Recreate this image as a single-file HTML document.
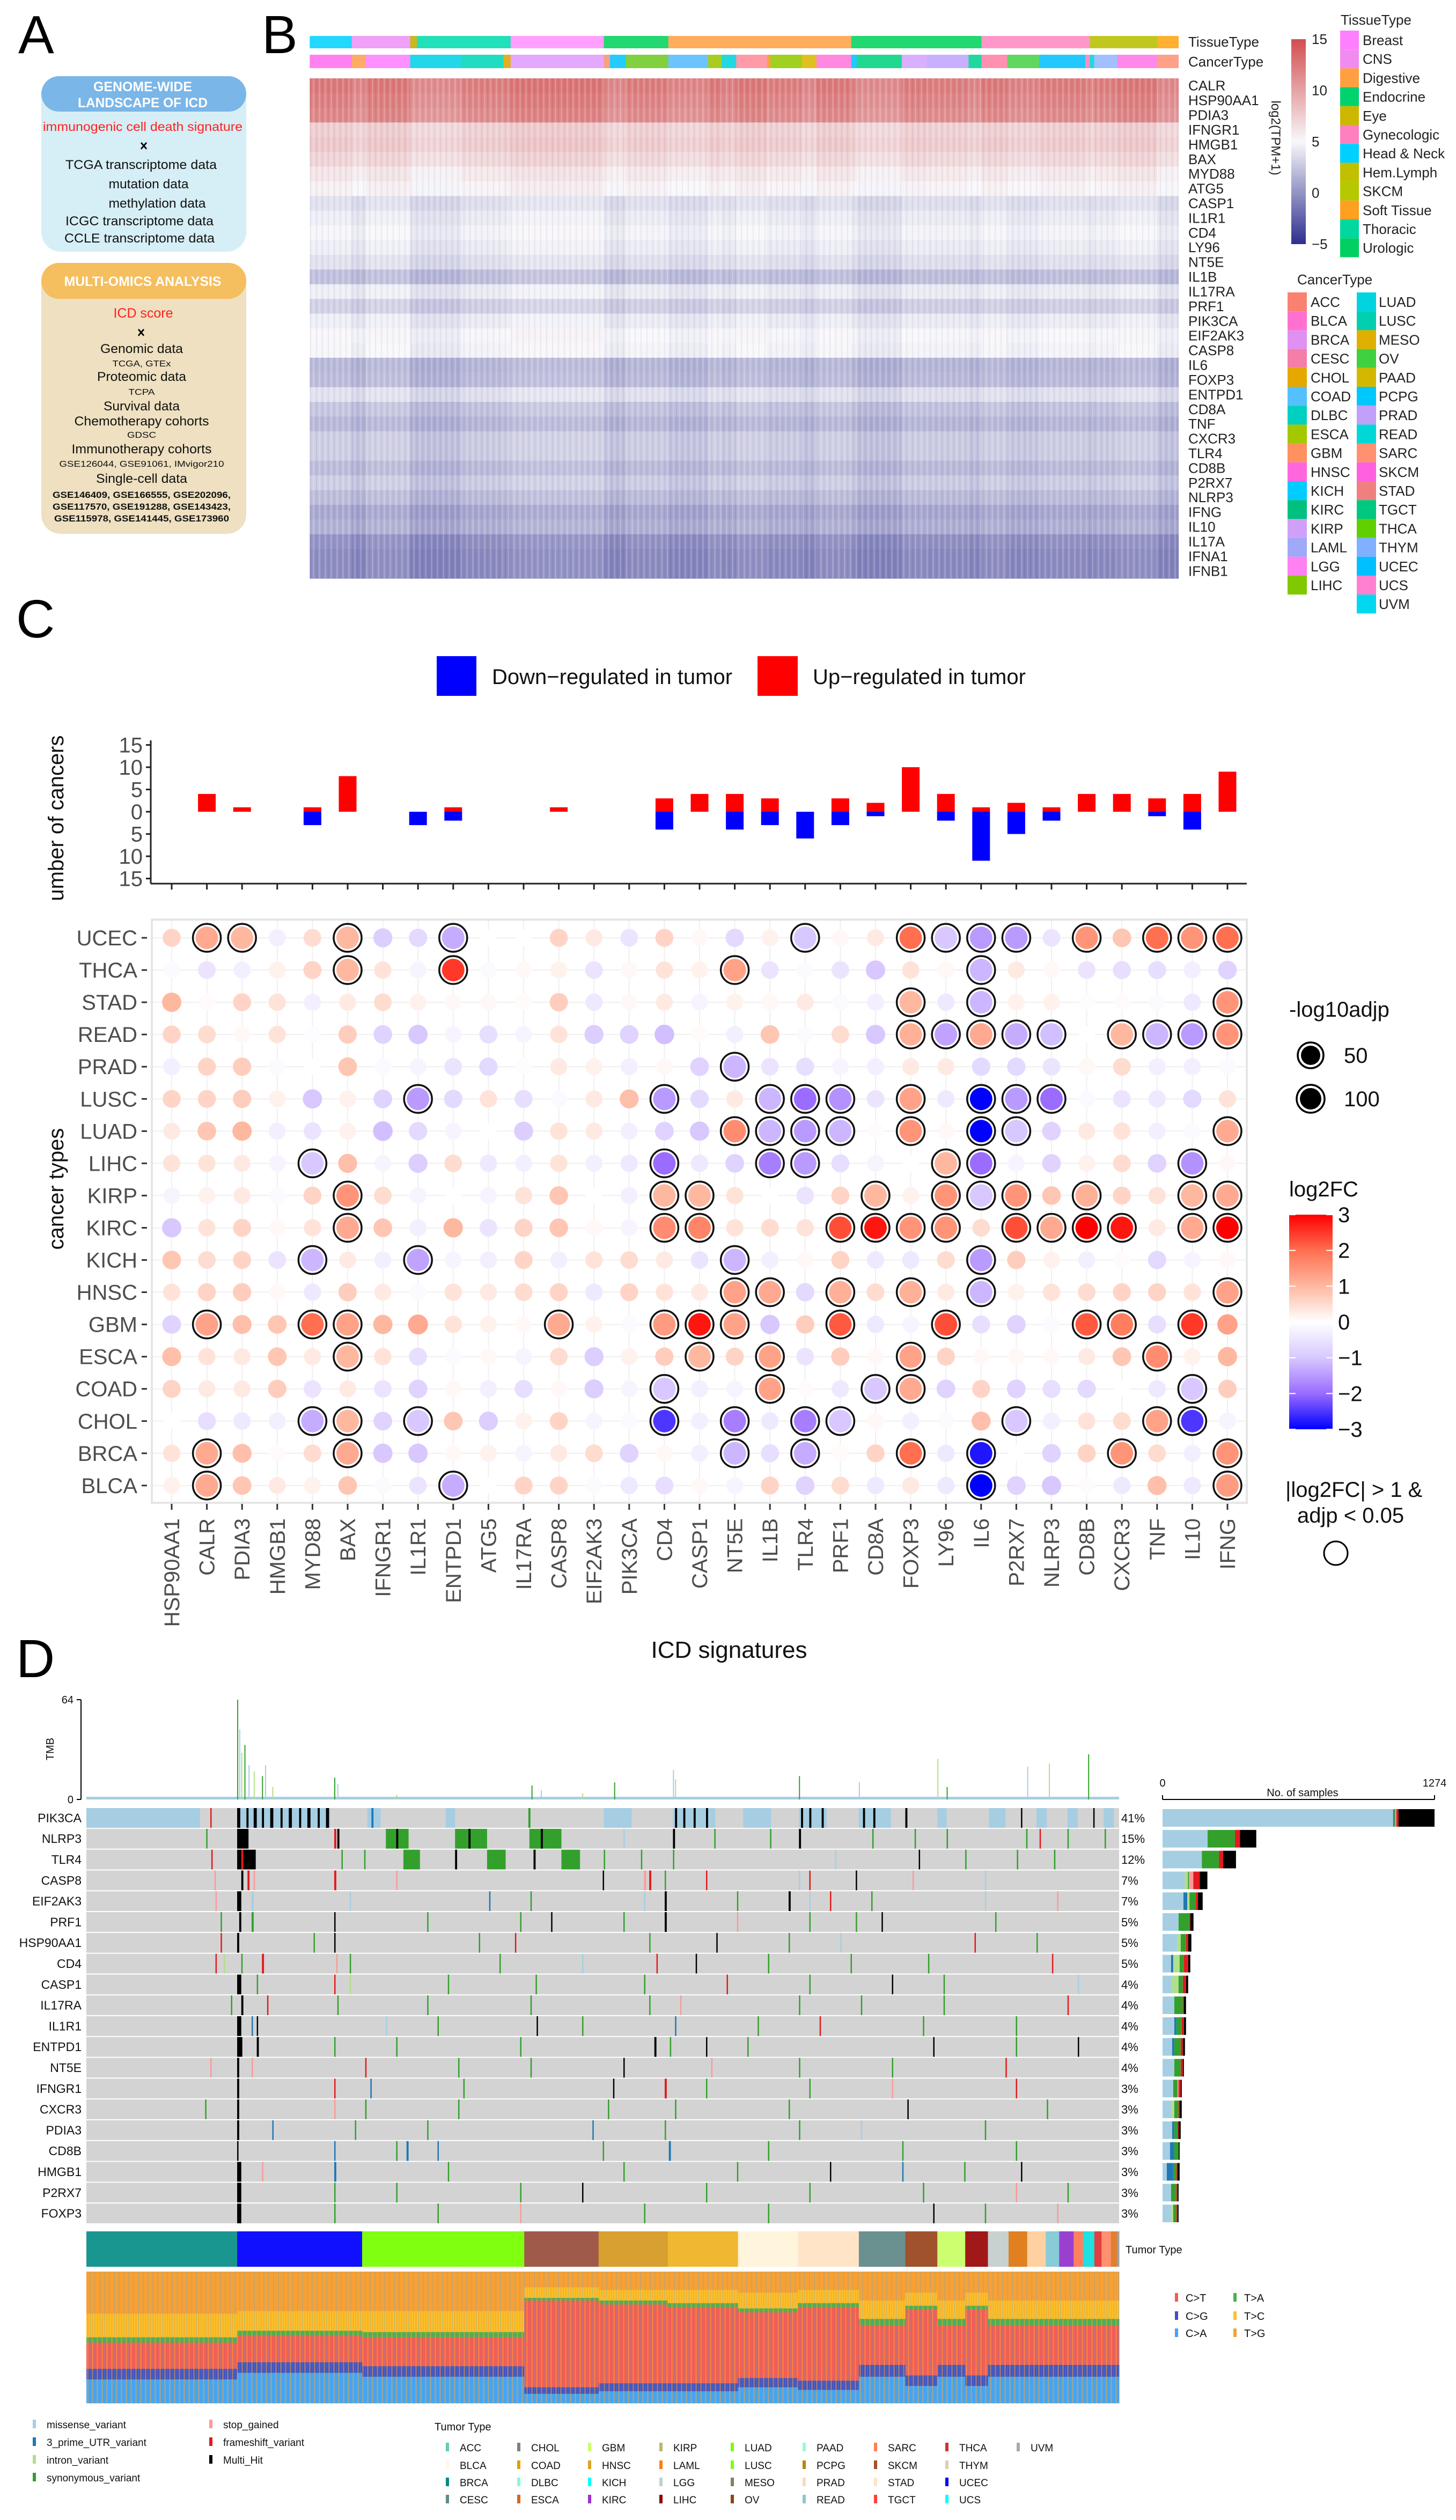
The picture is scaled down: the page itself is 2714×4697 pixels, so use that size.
<!DOCTYPE html>
<html><head><meta charset="utf-8"><title>ICD figure</title>
<style>
html,body{margin:0;padding:0;background:#fff;}
svg{display:block;font-family:"Liberation Sans",sans-serif;}
</style></head>
<body>
<svg id="fig" xmlns="http://www.w3.org/2000/svg" width="2714" height="4697" viewBox="0 0 2714 4697">
<defs>
<linearGradient id="tpmGrad" x1="0" y1="0" x2="0" y2="1">
<stop offset="0" stop-color="#d24e4e"/><stop offset="0.5" stop-color="#f8f8fb"/><stop offset="1" stop-color="#2e2e8e"/>
</linearGradient>
<linearGradient id="fcGrad" x1="0" y1="0" x2="0" y2="1">
<stop offset="0" stop-color="#ff0000"/><stop offset="0.1667" stop-color="#ff6f50"/><stop offset="0.3333" stop-color="#ffb8a0"/><stop offset="0.5" stop-color="#ffffff"/><stop offset="0.6667" stop-color="#d8c8ff"/><stop offset="0.8333" stop-color="#9a6cff"/><stop offset="1" stop-color="#0000ff"/>
</linearGradient>
<pattern id="heatTex" width="11" height="10" patternUnits="userSpaceOnUse">
<rect x="0" y="0" width="3" height="10" fill="#ffffff" opacity="0.18"/><rect x="6" y="0" width="2" height="10" fill="#000040" opacity="0.05"/>
</pattern>
<pattern id="specTex" width="9" height="10" patternUnits="userSpaceOnUse">
<rect x="0" y="0" width="3" height="10" fill="#f7a134" opacity="0.45"/><rect x="5" y="0" width="2" height="10" fill="#42a5f5" opacity="0.25"/>
</pattern>
</defs>
</svg>
<script>
// ---------------- DATA ----------------
const heatGenes = ["CALR","HSP90AA1","PDIA3","IFNGR1","HMGB1","BAX","MYD88","ATG5","CASP1","IL1R1","CD4","LY96","NT5E","IL1B","IL17RA","PRF1","PIK3CA","EIF2AK3","CASP8","IL6","FOXP3","ENTPD1","CD8A","TNF","CXCR3","TLR4","CD8B","P2RX7","NLRP3","IFNG","IL10","IL17A","IFNA1","IFNB1"];
const heatMeans = [12,11.6,11.2,7.2,7.5,6.8,5.8,5.2,3.6,4.2,4.6,4.2,3.6,2.0,4.2,2.8,4.2,4.8,4.6,1.6,1.8,3.6,2.2,1.6,2.6,2.6,1.8,2.6,1.8,0.8,1.2,-0.3,-0.6,-0.6];
const tissueSegEnds = [82,186,198,365,531,646,972,1204,1397,1517,1555];
const tissueSegCols = ["#22d8ff","#f0a0f8","#c8b820","#22e0b8","#ffa0ff","#22d870","#ffac5c","#22d870","#ff98c8","#c0c820","#ffb030"];
const cancerSegEnds = [82,107,186,277,352,365,531,542,570,646,717,741,767,822,828,884,910,972,982,1062,1107,1181,1204,1250,1307,1389,1397,1405,1446,1517,1555];
const cancerSegCols = ["#ff80f0","#ffaa66","#ff90ff","#22d8e8","#20dcc0","#e0b020","#e4a8ff","#f8a080","#22ccff","#80d040","#6cc4ff","#a8cc20","#22d8e0","#ff9aa8","#ffa040","#a0d020","#e0c020","#ff88e0","#22c8ff","#20d890","#d8b0ff","#c8b0ff","#20d8a0","#ff90b0","#60d860","#22c8ff","#ff90c0","#22d8e0","#a0c0ff","#ff88e8","#ffa088"];
const cancerSegShift = [0.3,-0.2,0.4,-0.4,0.1,0.2,0.5,-0.1,-0.3,0.2,-0.2,0.3,0.0,0.4,-0.1,0.1,-0.3,0.3,0.0,-0.4,0.2,0.1,-0.2,0.3,-0.1,0.2,0.0,-0.2,0.1,0.4,-0.3];
const tissueNames = ["Breast","CNS","Digestive","Endocrine","Eye","Gynecologic","Head & Neck","Hem.Lymph","SKCM","Soft Tissue","Thoracic","Urologic"];
const tissueCols = ["#ff80ff","#f08cf0","#ffa040","#00d26e","#ccb800","#ff80c0","#00d0ff","#c0c000","#b5c800","#ffa020","#00d8a0","#00d060"];
const cancerNames1 = ["ACC","BLCA","BRCA","CESC","CHOL","COAD","DLBC","ESCA","GBM","HNSC","KICH","KIRC","KIRP","LAML","LGG","LIHC"];
const cancerCols1 = ["#fa8072","#ff70d0","#e090f0","#f47ea8","#e5a800","#55c0ff","#00d0c0","#a3c800","#ff9060","#ff66dd","#00ccff","#00c080","#d0a0f8","#a0a8f8","#ff80f0","#80c800"];
const cancerNames2 = ["LUAD","LUSC","MESO","OV","PAAD","PCPG","PRAD","READ","SARC","SKCM","STAD","TGCT","THCA","THYM","UCEC","UCS","UVM"];
const cancerCols2 = ["#00d4e0","#00d0b0","#e0b000","#40d040","#d4b800","#00c8ff","#c0a0f8","#00d8d8","#ff9070","#ff60e0","#f08080","#00c880","#60d000","#80b0ff","#00c0ff","#ff80d0","#00d8f0"];

const dotGenes = ["HSP90AA1","CALR","PDIA3","HMGB1","MYD88","BAX","IFNGR1","IL1R1","ENTPD1","ATG5","IL17RA","CASP8","EIF2AK3","PIK3CA","CD4","CASP1","NT5E","IL1B","TLR4","PRF1","CD8A","FOXP3","LY96","IL6","P2RX7","NLRP3","CD8B","CXCR3","TNF","IL10","IFNG"];
const upCounts =   [0,4,1,0,1,8,0,0,1,0,0,1,0,0,3,4,4,3,0,3,2,10,4,1,2,1,4,4,3,4,9];
const downCounts = [0,0,0,0,3,0,0,3,2,0,0,0,0,0,4,0,4,3,6,3,1,0,2,11,5,2,0,0,1,4,0];
const cancerRows = ["UCEC","THCA","STAD","READ","PRAD","LUSC","LUAD","LIHC","KIRP","KIRC","KICH","HNSC","GBM","ESCA","COAD","CHOL","BRCA","BLCA"];
const fcUCEC = "0.6 1.2R 1.0R -0.3 0.5 1.0R -0.9 -0.7 -1.3R 0 0 0.6 0.3 -0.5 0.6 0.1 -0.7 0.2 -1R 0.1 0.3 2R -1R -1.5R -1.5R -0.5 1.5R 0.8 2R 1.5R 2R";
const fcTHCA = "-0.1 -0.5 -0.3 0.2 0.6 1.0R 0.4 -0.2 2.5R -0.1 0.1 0.2 -0.5 0.1 0.4 0.2 1.3R -0.5 -0.1 -0.5 -1.0 0.4 0.1 -1.2R 0.3 0.1 -0.5 -0.6 -0.6 -0.3 -0.8";
const fcSTAD = "1.0 0.05 0.6 0.4 -0.3 0.3 0.5 0.2 0.1 0.1 0.05 0.7 -0.4 0.1 0.3 -0.2 0.2 0.1 0.3 -0.1 -0.3 1.0R -0.4 -1.2R 0.2 0.2 -0.05 0.05 -0.1 -0.4 1.5R";
const fcREAD = "0.6 0.5 0.1 0.4 -0.05 0.7 -0.8 -1.0 -0.2 -0.6 -0.2 0.4 -0.9 -0.8 -1.1 0.05 -0.3 0.8 -0.1 0.5 -1.0 1.1R -1.4R 1.2R -1.3R -1.1R 0 1.0R -1.2R -1.5R 1.5R";
const fcPRAD = "-0.3 0.6 0.7 -0.1 0 0.8 -0.1 -0.2 -0.5 -0.7 -0.05 0.3 0.2 -0.3 0.1 -0.8 -1.2R -0.5 -0.6 -0.2 -0.3 0.3 0.3 -0.7 -0.7 -0.5 0.1 0.5 -0.3 -0.3 -0.1";
const fcLUSC = "0.6 0.6 0.7 0.2 -1.0 0.2 -0.8 -1.5R -0.7 0.4 -0.6 -0.1 0.3 0.9 -1.5R -0.7 0.3 -1.2R -2R -1.6R -0.5 1.3R -0.4 -3R -1.5R -2R -0.1 -0.5 -0.4 -0.7 0.4";
const fcLUAD = "0.3 0.8 1.0 -0.3 -0.5 0.2 -1.1 -0.7 -0.2 0 -0.9 0.4 0.3 -0.3 -0.8 -1.0 1.6R -1.2R -1.5R -1.2R 0.05 1.5R 0.1 -3R -1.0R -0.8 0.3 0.4 -0.3 -0.1 1.2R";
const fcLIHC = "0.4 0.4 0.3 -0.2 -1.0R 0.9 -0.2 -0.9 0.5 -0.4 -0.3 0.4 -0.3 -0.4 -2R -0.4 -0.8 -1.8R -1.5R -0.6 -0.2 0 1.0R -2R -0.2 -0.8 0.2 0.5 -0.8 -1.6R 0.1";
const fcKIRP = "-0.2 0.2 0.3 -0.1 0.6 1.5R 0.5 -0.2 0 -0.2 0.4 0.8 0 -0.3 1.0R 1.0R 0.4 0 -0.5 0.6 1.0R 0.2 1.5R -1.0R 1.5R 0.8 1.1R 0.6 0.4 1.0R 1.2R";
const fcKIRC = "-1.0 0.4 0.6 0.1 0.4 1.2R 0.8 -0.3 1.0 -0.5 0.6 0.8 0.1 -0.2 1.6R 1.7R 0.4 0.5 0.4 2.3R 2.8R 1.5R 1.5R 0.5 2.3R 1.2R 3R 2.8R 0.3 1.2R 3R";
const fcKICH = "0.8 0.5 0.6 -0.5 -1.2R 0.3 -0.3 -1.4R -0.2 -0.3 0.6 -0.3 0.4 0.5 0.3 -0.5 -1.2R -0.3 0.1 0.6 -0.4 -0.4 0.5 -1.5R 0.7 0.2 -0.3 0.05 -0.7 -0.2 0.1";
const fcHNSC = "0.4 0.6 0.7 0.1 -0.4 0.7 0.3 -0.1 0.4 0.3 0.5 0.6 -0.4 0.6 0.4 0.3 1.3R 1.2R -0.7 1.1R 0.5 1.1R 0.3 -1.2R 0.2 0.4 0.5 0.6 0.6 0.4 1.3R";
const fcGBM  = "-0.8 1.3R 0.9 0.8 2R 1.3R 1.0 1.2 0.4 0.2 0.1 1.2R 0.2 -0.1 1.4R 2.8R 1.3R -1.0 0.7 2.2R -0.4 -0.2 2.3R -0.6 -0.8 -0.1 2.2R 1.8R -0.6 2.5R 1.3";
const fcESCA = "0.9 0.4 0.3 0.8 0.3 1.0R 0.4 -0.6 -0.1 0.1 -0.2 0.5 -0.9 0.2 0.7 1.0R 0.6 1.3R -0.5 0.7 0.1 1.3R 0.6 0.1 0.1 0.1 0.3 0.8 1.6R 0.2 1.0";
const fcCOAD = "0.6 0.3 0.3 0.7 -0.5 0.3 -0.5 -0.8 0.1 -0.3 -0.6 0.1 -0.9 -0.2 -1.0R -0.3 -0.2 1.3R 0.05 -0.4 -1.0R 1.2R -0.8 0.6 -0.8 -0.6 -0.7 0 -0.4 -1.0R 0.7";
const fcCHOL = "0 -0.6 -0.4 -0.3 -1.3R 1.0R -0.8 -1.0R 0.8 -0.9 0.2 0.6 -0.2 -0.1 -2.5R -0.3 -1.8R -0.4 -1.8R -1.0R 0.1 -0.3 -0.1 0.9 -1.0R -0.3 0.4 0.5 1.3R -2.5R -0.2";
const fcBRCA = "0.4 1.2R 0.9 0.05 0.5 1.2R -1.0 -1.0 0.1 0.2 -0.2 0.3 0.5 -0.8 0.1 -0.3 -1.2R -0.6 -1.3R 0.05 0.6 2R -0.4 -2.8R 0 -0.8 0.6 1.5R 0.5 -0.3 1.5R";
const fcBLCA = "0.2 1.2R 0.8 0.3 0.2 0.8 -0.1 -0.5 -1.3R 0 0.6 0.6 -0.1 -0.4 -0.6 0.1 -0.2 0.6 -0.8 0.5 -0.4 0.3 -0.4 -3R -0.8 -1.0 0.05 -0.4 0.9 -0.4 1.4R";
const fcRows = [fcUCEC,fcTHCA,fcSTAD,fcREAD,fcPRAD,fcLUSC,fcLUAD,fcLIHC,fcKIRP,fcKIRC,fcKICH,fcHNSC,fcGBM,fcESCA,fcCOAD,fcCHOL,fcBRCA,fcBLCA];
const barTicks = [15,10,5,0,-5,-10,-15];
const fcTicks = [3,2,1,0,-1,-2,-3];

const oncoGenes = ["PIK3CA","NLRP3","TLR4","CASP8","EIF2AK3","PRF1","HSP90AA1","CD4","CASP1","IL17RA","IL1R1","ENTPD1","NT5E","IFNGR1","CXCR3","PDIA3","CD8B","HMGB1","P2RX7","FOXP3"];
const oncoPct = ["41%","15%","12%","7%","7%","5%","5%","5%","4%","4%","4%","4%","4%","3%","3%","3%","3%","3%","3%","3%"];
const varTypes = ["missense_variant","3_prime_UTR_variant","intron_variant","synonymous_variant","stop_gained","frameshift_variant","Multi_Hit"];
const varCols = ["#a6cee3","#1f78b4","#b2df8a","#33a02c","#fb9a99","#e31a1c","#000000"];
const geneCounts = [[1080,5,0,5,5,10,169],[211,0,0,128,0,24,76],[184,0,0,80,0,20,60],[104,0,15,5,20,30,36],[98,18,10,30,0,10,22],[75,0,0,50,0,5,15],[70,0,15,25,0,10,15],[40,10,30,20,0,20,10],[45,0,30,20,0,15,10],[55,0,0,40,0,5,10],[55,10,0,25,0,10,10],[45,10,0,30,0,10,10],[55,0,0,30,0,10,5],[50,0,0,20,5,10,5],[45,0,10,20,0,5,10],[45,10,0,15,0,5,10],[35,20,0,20,0,0,5],[20,30,0,15,0,5,10],[40,0,0,25,0,5,5],[40,0,10,15,0,5,5]];
const mutPIK3CA = [[0,110,0],[146,236,0],[272,285,0],[348,357,0],[501,528,0],[568,609,0],[636,663,0],[690,717,0],[748,779,0],[824,833,0],[874,890,0],[920,930,0],[950,960,0],[985,995,0],[146,149,6],[155,157,6],[162,165,6],[170,172,6],[178,181,6],[188,190,6],[196,199,6],[206,208,6],[214,217,6],[224,226,6],[232,235,6],[120,121,5],[276,278,1],[428,430,3],[570,572,6],[578,580,6],[588,590,6],[600,602,6],[692,694,6],[700,702,6],[712,714,6],[752,754,6],[762,764,6],[793,795,6],[905,906,6],[975,976,6]];
const mutNLRP3 = [[290,312,3],[357,388,3],[429,460,3],[146,157,6],[240,242,5],[243,245,6],[116,117,3],[568,570,6],[690,692,6],[608,609,3],[662,663,3],[761,762,3],[802,803,3],[833,834,3],[910,911,3],[923,924,5],[950,951,3],[986,987,3],[300,302,6],[370,372,6],[440,442,6],[520,521,0]];
const mutTLR4 = [[307,323,3],[388,406,3],[460,478,3],[146,164,6],[121,122,5],[247,248,3],[269,270,3],[357,359,6],[433,435,6],[501,502,3],[537,538,3],[568,569,3],[725,726,0],[806,807,6],[851,852,3],[901,902,3],[937,938,3],[150,152,5]];
const mutCASP8 = [[124,125,4],[150,152,6],[156,158,5],[162,163,4],[240,242,5],[300,301,4],[500,501,6],[540,542,4],[545,547,5],[560,561,3],[600,601,5],[690,691,0],[700,701,5],[745,746,6],[800,801,4],[870,871,0]];
const mutEIF2AK3 = [[125,126,4],[146,150,6],[160,162,0],[255,256,0],[390,391,1],[430,431,3],[540,541,0],[560,562,6],[630,631,3],[680,682,6],[700,701,0],[720,721,5],[760,761,3],[870,871,0],[940,941,4]];
const mutPRF1 = [[130,131,3],[148,150,6],[160,162,3],[240,241,6],[330,331,3],[420,421,3],[450,451,6],[520,521,3],[560,562,6],[630,631,4],[700,701,3],[745,746,3],[770,771,6],[880,881,3]];
const mutHSP90AA1 = [[130,131,5],[146,148,6],[220,221,3],[240,241,6],[380,381,3],[415,416,5],[545,546,3],[610,611,6],[680,681,3],[730,731,0],[860,861,5],[920,921,3]];
const mutCD4 = [[125,126,5],[133,134,2],[150,151,3],[170,172,5],[242,243,4],[255,256,3],[400,401,3],[480,481,0],[552,553,5],[590,591,6],[660,661,3],[740,741,3],[815,816,3],[935,936,5]];
const mutCASP1 = [[146,150,6],[165,166,3],[240,241,5],[255,256,2],[350,351,3],[435,436,3],[540,541,3],[620,621,5],[700,701,3],[780,781,6],[830,831,3],[960,961,0]];
const mutIL17RA = [[140,141,3],[150,152,6],[175,176,5],[243,244,3],[330,331,3],[430,431,3],[545,546,3],[575,576,4],[690,691,3],[750,751,3],[830,831,3],[950,951,5]];
const mutIL1R1 = [[146,150,6],[160,161,1],[165,166,6],[290,291,0],[340,341,3],[436,437,6],[480,481,3],[570,571,1],[650,651,3],[710,711,5],[810,811,3],[900,901,3]];
const mutENTPD1 = [[146,151,6],[165,167,6],[240,241,3],[300,301,3],[420,421,3],[550,552,6],[565,566,3],[600,601,6],[640,641,3],[820,821,6],[900,901,3],[960,961,6]];
const mutNT5E = [[120,121,4],[146,148,6],[160,161,4],[270,271,5],[360,361,3],[430,431,3],[520,521,6],[605,606,4],[690,691,3],[780,781,3],[890,891,5]];
const mutIFNGR1 = [[146,148,6],[240,241,5],[275,276,1],[365,366,3],[510,511,6],[560,562,5],[600,601,3],[700,701,3],[780,781,4],[900,901,5]];
const mutCXCR3 = [[115,116,3],[146,148,6],[240,241,4],[270,271,3],[360,361,3],[505,506,3],[570,571,3],[680,681,3],[795,796,6],[930,931,3]];
const mutPDIA3 = [[146,148,6],[180,181,1],[260,261,3],[330,331,3],[490,491,1],[560,561,3],[690,691,3],[750,751,0],[870,871,3]];
const mutCD8B = [[146,147,6],[240,241,1],[300,301,3],[310,312,1],[340,341,1],[500,501,3],[564,566,1],[660,661,3],[790,791,3],[900,901,3]];
const mutHMGB1 = [[146,150,6],[170,171,4],[240,242,1],[350,351,3],[520,521,3],[630,631,3],[720,721,6],[790,791,1],[850,851,3],[905,906,6]];
const mutP2RX7 = [[146,150,6],[240,241,3],[300,301,3],[420,421,3],[480,481,6],[600,601,3],[700,701,3],[810,811,3],[900,901,4],[950,951,3]];
const mutFOXP3 = [[146,150,6],[240,241,3],[340,341,3],[420,421,4],[540,541,3],[660,661,3],[820,821,6],[870,871,3],[940,941,4]];
const mutRows = [mutPIK3CA,mutNLRP3,mutTLR4,mutCASP8,mutEIF2AK3,mutPRF1,mutHSP90AA1,mutCD4,mutCASP1,mutIL17RA,mutIL1R1,mutENTPD1,mutNT5E,mutIFNGR1,mutCXCR3,mutPDIA3,mutCD8B,mutHMGB1,mutP2RX7,mutFOXP3];
const tmbIdx = [146,148,150,153,157,162,170,173,180,240,243,300,431,440,480,511,568,570,690,748,824,833,911,932,970];
const tmbVal = [64,45,30,35,22,18,15,22,8,14,10,3,9,6,4,11,19,13,15,11,26,8,21,23,29];
const tumorSegEnds = [146,267,424,496,563,631,689,748,793,824,851,873,893,911,929,942,956,965,976,983,992,998,1000];
const tumorSegCols = ["#1a9690","#1010ff","#80ff10","#a05a4a","#d8a030","#f0b830","#fff5dc","#ffe4c8","#6a9090","#a0522d","#ccff70","#a01818","#c8d0d0","#e08020","#ffd0a0","#88ccd8","#9a40d0","#ff8060","#20e0e0","#e04040","#ff9070","#e08030","#a0a0a0"];
const specNames = ["T>G","T>C","T>A","C>T","C>G","C>A"];
const specCols = ["#f7a134","#ffc125","#4daf4a","#f25c54","#4050c0","#42a5f5"];
const specFracs = [[0.32,0.18,0.04,0.2,0.08,0.18],[0.3,0.15,0.04,0.2,0.08,0.23],[0.3,0.16,0.04,0.22,0.08,0.2],[0.12,0.08,0.02,0.66,0.05,0.07],[0.14,0.08,0.03,0.6,0.06,0.09],[0.14,0.1,0.03,0.58,0.06,0.09],[0.16,0.12,0.03,0.5,0.07,0.12],[0.14,0.1,0.03,0.56,0.07,0.1],[0.22,0.14,0.05,0.3,0.09,0.2],[0.16,0.1,0.03,0.5,0.08,0.13],[0.22,0.14,0.05,0.3,0.09,0.2],[0.16,0.1,0.03,0.5,0.08,0.13],[0.22,0.14,0.05,0.3,0.09,0.2],[0.22,0.14,0.05,0.3,0.09,0.2],[0.22,0.14,0.05,0.3,0.09,0.2],[0.22,0.14,0.05,0.3,0.09,0.2],[0.22,0.14,0.05,0.3,0.09,0.2],[0.22,0.14,0.05,0.3,0.09,0.2],[0.22,0.14,0.05,0.3,0.09,0.2],[0.22,0.14,0.05,0.3,0.09,0.2],[0.22,0.14,0.05,0.3,0.09,0.2],[0.22,0.14,0.05,0.3,0.09,0.2],[0.22,0.14,0.05,0.3,0.09,0.2]];
const ttNames = ["ACC","BLCA","BRCA","CESC","CHOL","COAD","DLBC","ESCA","GBM","HNSC","KICH","KIRC","KIRP","LAML","LGG","LIHC","LUAD","LUSC","MESO","OV","PAAD","PCPG","PRAD","READ","SARC","SKCM","STAD","TGCT","THCA","THYM","UCEC","UCS","UVM"];
const ttCols = ["#66cdaa","#fff8dc","#008b8b","#5f8b8b","#808080","#e0a000","#7fffd4","#d2691e","#ccff66","#daa520","#00ffff","#9932cc","#bdb76b","#ff7f00","#c0d0d0","#8b0000","#7cfc00","#7fff00","#808069","#8b4513","#98fbcb","#b8860b","#ffdab9","#8dc7d0","#ff7f50","#a0522d","#ffe4c4","#ff4040","#cd3333","#d8d0b8","#0000ff","#00ffff","#a9a9a9"];

// ---------------- HELPERS ----------------
const NS = "http://www.w3.org/2000/svg";
const svg = document.getElementById("fig");
function mk(tag, attrs, parent) {
  const e = document.createElementNS(NS, tag);
  for (const k in attrs) e.setAttribute(k, attrs[k]);
  (parent || svg).appendChild(e);
  return e;
}
function tx(x, y, s, attrs, parent) {
  const e = mk("text", Object.assign({x: x, y: y}, attrs || {}), parent);
  e.textContent = s;
  return e;
}
function grp(name) {
  const g = mk("g", {});
  
  
  return g;
}
function hex(c){return [parseInt(c.substr(1,2),16),parseInt(c.substr(3,2),16),parseInt(c.substr(5,2),16)];}
function mix(a,b,t){const A=hex(a),B=hex(b);return "rgb("+A.map((v,i)=>Math.round(v+(B[i]-v)*t)).join(",")+")";}
function tpmColor(v){ if(v>=5) return mix("#f8f8fb","#d24e4e",Math.min(1,(v-5)/10)); return mix("#f8f8fb","#2e2e8e",Math.min(1,(5-v)/10)); }
const fcStops = [[-3,"#0000ff"],[-2,"#9a6cff"],[-1,"#d8c8ff"],[0,"#ffffff"],[1,"#ffb8a0"],[2,"#ff6f50"],[3,"#ff0000"]];
function fcColor(v){ v=Math.max(-3,Math.min(3,v)); for(let i=0;i<fcStops.length-1;i++){ if(v<=fcStops[i+1][0]) return mix(fcStops[i][1],fcStops[i+1][1],(v-fcStops[i][0])); } return "#ff0000"; }

// ---------------- PANEL LABELS ----------------
[["A",34,99],["B",488,99],["C",30,1188],["D",30,3126]].forEach(p=>{
  const t = tx(p[1],p[2],p[0],{"font-size":100,"fill":"#000"});
  
  
});

// ---------------- PANEL A ----------------
(function(){
  const g = grp("panel-a-workflow");
  const b1 = mk("rect",{x:77,y:142,width:382,height:327,rx:36,fill:"#d6eef5"},g);
  
  
  const h1 = mk("rect",{x:77,y:142,width:382,height:66,rx:33,fill:"#7ab6e8"},g);
  
  
  function L(x,y,s,size,len,fill,bold){
    return tx(x,y,s,{"font-size":size,fill:fill,"text-anchor":"middle","textLength":len,"lengthAdjust":"spacingAndGlyphs","font-weight":bold?"bold":"normal"},g);
  }
  L(266,170,"GENOME-WIDE",25,184,"#fff",true);
  L(266,200,"LANDSCAPE OF ICD",25,242,"#fff",true);
  L(266,244,"immunogenic cell death signature",23,372,"#ff2020",false);
  L(268,281,"×",28,14,"#000",true);
  L(263,315,"TCGA transcriptome data",24,282,"#111",false);
  L(277,351,"mutation data",24,149,"#111",false);
  L(293,387,"methylation data",24,181,"#111",false);
  L(260,420,"ICGC transcriptome data",24,276,"#111",false);
  L(260,452,"CCLE transcriptome data",24,280,"#111",false);
  const b2 = mk("rect",{x:77,y:490,width:382,height:505,rx:36,fill:"#eee0c0"},g);
  
  
  const h2 = mk("rect",{x:77,y:490,width:382,height:67,rx:33,fill:"#f5be5e"},g);
  
  
  L(266,533,"MULTI-OMICS ANALYSIS",25,293,"#fff",true);
  L(267,592,"ICD score",25,111,"#ff2020",false);
  L(263,629,"×",28,14,"#000",true);
  const lines = [["Genomic data",658,24,154],["TCGA, GTEx",683,16,109],["Proteomic data",710,24,166],["TCPA",736,16,49],["Survival data",765,24,142],["Chemotherapy cohorts",793,24,251],["GDSC",816,16,54],["Immunotherapy cohorts",845,24,261],["GSE126044, GSE91061, IMvigor210",870,16,307],["Single-cell data",900,24,170],["GSE146409, GSE166555, GSE202096,",928,17,332],["GSE117570, GSE191288, GSE143423,",950,17,332],["GSE115978, GSE141445, GSE173960",972,17,326]];
  lines.forEach(l=>{ L(264,l[1],l[0],l[2],l[3],"#111",l[2]===17); });
})();

// ---------------- PANEL B ----------------
(function(){
  const g = grp("panel-b-heatmap");
  const X0=570, f=1/0.956, hx=d=>X0+d*f;
  let prev=7;
  tissueSegEnds.forEach((e,i)=>{
    const r = mk("rect",{x:hx(prev),y:67,width:hx(e)-hx(prev)+0.5,height:23,fill:tissueSegCols[i]},g);
    
    
    prev=e;
  });
  prev=7;
  cancerSegEnds.forEach((e,i)=>{
    const r = mk("rect",{x:hx(prev),y:102,width:hx(e)-hx(prev)+0.5,height:25,fill:cancerSegCols[i]},g);
    
    
    prev=e;
  });
  const rowH=(1078-146)/heatGenes.length;
  heatGenes.forEach((gn,ri)=>{
    let p=7;
    cancerSegEnds.forEach((e,ci)=>{
      const v = heatMeans[ri] + cancerSegShift[ci]*(ri<3?1.5:1);
      const r = mk("rect",{x:hx(p),y:146+ri*rowH,width:hx(e)-hx(p)+0.6,height:rowH+0.6,fill:tpmColor(v)},g);
      
      
      p=e;
    });
    const t = tx(2215,146+(ri+0.5)*rowH+9,gn,{"font-size":26,fill:"#222"},g);
    
    
  });
  mk("rect",{x:hx(7),y:146,width:hx(1555)-hx(7),height:932,fill:"url(#heatTex)"},g);
  tx(2215,87,"TissueType",{"font-size":26,fill:"#222"},g);
  tx(2215,124,"CancerType",{"font-size":26,fill:"#222"},g);
  const cb = mk("rect",{x:2407,y:73,width:27,height:382,fill:"url(#tpmGrad)"},g);
  
  
  [15,10,5,0,-5].forEach(v=>{
    const y=73+(15-v)/20*382;
    tx(2445,y+9,v<0?"−"+Math.abs(v):String(v),{"font-size":26,fill:"#222"},g);
  });
  tx(0,0,"log2(TPM+1)",{"font-size":24,fill:"#222","text-anchor":"middle",transform:"translate(2370,257) rotate(90)"},g);
  tx(2499,46,"TissueType",{"font-size":26,fill:"#222"},g);
  tissueNames.forEach((n,i)=>{
    const r = mk("rect",{x:2498,y:57+i*35.2,width:35,height:35.2,fill:tissueCols[i]},g);
    
    
    tx(2540,57+i*35.2+27,n,{"font-size":26,fill:"#222"},g);
  });
  tx(2418,530,"CancerType",{"font-size":26,fill:"#222"},g);
  cancerNames1.forEach((n,i)=>{
    const r = mk("rect",{x:2400,y:545+i*35.2,width:36,height:35.2,fill:cancerCols1[i]},g);
    
    
    tx(2443,545+i*35.2+27,n,{"font-size":26,fill:"#222"},g);
  });
  cancerNames2.forEach((n,i)=>{
    const r = mk("rect",{x:2529,y:545+i*35.2,width:36,height:35.2,fill:cancerCols2[i]},g);
    
    
    tx(2570,545+i*35.2+27,n,{"font-size":26,fill:"#222"},g);
  });
})();

// ---------------- PANEL C ----------------
const colX = i => 320 + 65.6*i;
const rowY = j => 1748 + 60.05*j;
const barY = v => 1513 - v*8.3;
const fcY = v => 2264 + (3-v)*66.67;
(function(){
  const g = grp("panel-c");
  const lb = mk("rect",{x:814,y:1223,width:74,height:74,fill:"#0000ff"},g);
  
  
  tx(917,1275,"Down−regulated in tumor",{"font-size":40,fill:"#111"},g);
  const lr = mk("rect",{x:1412,y:1223,width:75,height:74,fill:"#ff0000"},g);
  
  
  tx(1515,1275,"Up−regulated in tumor",{"font-size":40,fill:"#111"},g);
  mk("line",{x1:281,y1:1380,x2:281,y2:1647,stroke:"#222","stroke-width":3},g);
  mk("line",{x1:281,y1:1647,x2:2324,y2:1647,stroke:"#222","stroke-width":3},g);
  barTicks.forEach(v=>{
    const y=barY(v);
    mk("line",{x1:272,y1:y,x2:281,y2:y,stroke:"#222","stroke-width":3},g);
    const t = tx(266,y+14,String(Math.abs(v)),{"font-size":40,fill:"#4d4d4d","text-anchor":"end"},g);
    
    
  });
  tx(0,0,"umber of cancers",{"font-size":40,fill:"#111","text-anchor":"middle",transform:"translate(118,1525) rotate(-90)"},g);
  dotGenes.forEach((gn,i)=>{
    const x=colX(i);
    mk("line",{x1:x,y1:1647,x2:x,y2:1658,stroke:"#222","stroke-width":3},g);
    if(upCounts[i]>0){
      const r = mk("rect",{x:x-16.5,y:barY(upCounts[i]),width:33,height:upCounts[i]*8.3,fill:"#ff0000"},g);
      
      
    }
    if(downCounts[i]>0){
      const r = mk("rect",{x:x-16.5,y:1513,width:33,height:downCounts[i]*8.3,fill:"#0000ff"},g);
      
      
    }
  });
  const pb = mk("rect",{x:283,y:1714,width:2041,height:1087,fill:"#fff",stroke:"#e6e6e6","stroke-width":4},g);
  
  
  dotGenes.forEach((gn,i)=>mk("line",{x1:colX(i),y1:1716,x2:colX(i),y2:2799,stroke:"#f0f0f0","stroke-width":2},g));
  cancerRows.forEach((c,j)=>{
    const y=rowY(j);
    mk("line",{x1:285,y1:y,x2:2322,y2:y,stroke:"#f0f0f0","stroke-width":2},g);
    mk("line",{x1:264,y1:y,x2:274,y2:y,stroke:"#333","stroke-width":3},g);
    const t = tx(256,y+14,c,{"font-size":40,fill:"#4d4d4d","text-anchor":"end"},g);
    
    
  });
  tx(0,0,"cancer types",{"font-size":40,fill:"#111","text-anchor":"middle",transform:"translate(118,2216) rotate(-90)"},g);
  fcRows.forEach((rowStr,j)=>{
    rowStr.trim().split(/\s+/).forEach((tok,i)=>{
      const sig = tok.endsWith("R");
      const v = parseFloat(tok);
      const r = sig ? 21 : 15 + Math.min(4,Math.abs(v)*3);
      const d = mk("circle",{cx:colX(i),cy:rowY(j),r:r,fill:fcColor(v)},g);
      
      
      if(sig){
        const ring = mk("circle",{cx:colX(i),cy:rowY(j),r:26,fill:"none",stroke:"#111","stroke-width":3.5},g);
        
        
      }
    });
  });
  dotGenes.forEach((gn,i)=>{
    const x=colX(i);
    mk("line",{x1:x,y1:2803,x2:x,y2:2814,stroke:"#333","stroke-width":3},g);
    const t = tx(0,0,gn,{"font-size":40,fill:"#4d4d4d","text-anchor":"end",transform:"translate("+(x+14)+",2830) rotate(-90)"},g);
    
    
  });
  const xt = tx(1359,3090,"ICD signatures",{"font-size":44,fill:"#111","text-anchor":"middle"},g);
  
  
  tx(2403,1895,"-log10adjp",{"font-size":40,fill:"#111"},g);
  [[1967,"50",18],[2048,"100",20]].forEach(s=>{
    mk("circle",{cx:2443,cy:s[0],r:s[2],fill:"#000"},g);
    mk("circle",{cx:2443,cy:s[0],r:s[2]+6,fill:"none",stroke:"#000","stroke-width":3.5},g);
    tx(2505,s[0]+14,s[1],{"font-size":40,fill:"#111"},g);
  });
  tx(2403,2230,"log2FC",{"font-size":40,fill:"#111"},g);
  const fb = mk("rect",{x:2403,y:2264,width:81,height:400,fill:"url(#fcGrad)"},g);
  
  
  fcTicks.forEach(v=>{
    const y=fcY(v);
    mk("line",{x1:2403,y1:y,x2:2415,y2:y,stroke:"#fff","stroke-width":2},g);
    mk("line",{x1:2472,y1:y,x2:2484,y2:y,stroke:"#fff","stroke-width":2},g);
    tx(2494,y+14,v<0?"−"+Math.abs(v):String(v),{"font-size":40,fill:"#111"},g);
  });
  tx(2396,2790,"|log2FC| > 1 &",{"font-size":40,fill:"#111"},g);
  tx(2418,2838,"adjp < 0.05",{"font-size":40,fill:"#111"},g);
  mk("circle",{cx:2490,cy:2895,r:22,fill:"#fff",stroke:"#000","stroke-width":3},g);
})();

// ---------------- PANEL D ----------------
const OX0=161, OX1=2086, NS_=1000;
const sx = i => OX0 + (OX1-OX0)*i/NS_;
const oRowH = 38.8, oY0 = 3369;
const tmbY = v => 3354 - v*(186/64);
const nsX = n => 2167 + n*(507/1274);
(function(){
  const g = grp("panel-d");
  mk("line",{x1:151,y1:3168,x2:151,y2:3354,stroke:"#000","stroke-width":2},g);
  [[64,"64"],[0,"0"]].forEach(t=>{
    mk("line",{x1:143,y1:tmbY(t[0]),x2:151,y2:tmbY(t[0]),stroke:"#000","stroke-width":2},g);
    tx(137,tmbY(t[0])+7,t[1],{"font-size":20,fill:"#111","text-anchor":"end"},g);
  });
  tx(0,0,"TMB",{"font-size":20,fill:"#111","text-anchor":"middle",transform:"translate(100,3260) rotate(-90)"},g);
  mk("rect",{x:OX0,y:3349,width:OX1-OX0,height:5,fill:"#a6cee3"},g);
  tmbIdx.forEach((s,k)=>{
    const b = mk("rect",{x:sx(s),y:tmbY(tmbVal[k]),width:2,height:tmbVal[k]*(186/64),fill:k%3===0?"#33a02c":(k%3===1?"#a6cee3":"#b2df8a")},g);
    
    
  });
  oncoGenes.forEach((gn,ri)=>{
    const y=oY0+ri*oRowH;
    const bg = mk("rect",{x:OX0,y:y+1,width:OX1-OX0,height:oRowH-2,fill:"#d3d3d3"},g);
    
    
    const segs = mutRows[ri].slice().sort((a,b)=>(a[2]===0?0:1)-(b[2]===0?0:1));
    segs.forEach(m=>{
      const r = mk("rect",{x:sx(m[0]),y:y+1,width:Math.max(2.5,sx(m[1])-sx(m[0])),height:oRowH-2,fill:varCols[m[2]]},g);
      
      
    });
    const t = tx(152,y+oRowH/2+8,gn,{"font-size":23,fill:"#111","text-anchor":"end"},g);
    
    
    tx(2090,y+oRowH/2+8,oncoPct[ri],{"font-size":22,fill:"#111"},g);
    let acc=0;
    geneCounts[ri].forEach((c,k)=>{
      if(c<=0) return;
      const r = mk("rect",{x:nsX(acc),y:y+3,width:c*(507/1274),height:oRowH-6,fill:varCols[k]},g);
      
      
      acc+=c;
    });
  });
  mk("line",{x1:2167,y1:3354,x2:2674,y2:3354,stroke:"#000","stroke-width":2},g);
  mk("line",{x1:2167,y1:3346,x2:2167,y2:3354,stroke:"#000","stroke-width":2},g);
  mk("line",{x1:2674,y1:3346,x2:2674,y2:3354,stroke:"#000","stroke-width":2},g);
  tx(2167,3330,"0",{"font-size":20,fill:"#111","text-anchor":"middle"},g);
  tx(2674,3330,"1274",{"font-size":20,fill:"#111","text-anchor":"middle"},g);
  tx(2428,3348,"No. of samples",{"font-size":20,fill:"#111","text-anchor":"middle"},g);
  let p=0;
  tumorSegEnds.forEach((e,i)=>{
    const r = mk("rect",{x:sx(p),y:4159,width:sx(e)-sx(p)+0.5,height:66,fill:tumorSegCols[i]},g);
    
    
    let yy=4234; const H=245;
    specFracs[i].forEach((fr,k)=>{
      mk("rect",{x:sx(p),y:yy,width:sx(e)-sx(p)+0.5,height:fr*H+0.5,fill:specCols[k]},g);
      yy+=fr*H;
    });
    p=e;
  });
  const st = mk("rect",{x:OX0,y:4234,width:OX1-OX0,height:245,fill:"url(#specTex)"},g);
  
  
  tx(2098,4200,"Tumor Type",{"font-size":20,fill:"#111"},g);
  const specLeg = [["C>T","#f25c54",2190,4286],["C>G","#4050c0",2190,4320],["C>A","#42a5f5",2190,4352],["T>A","#4daf4a",2299,4286],["T>C","#ffc125",2299,4320],["T>G","#f7a134",2299,4352]];
  specLeg.forEach(s=>{
    const r = mk("rect",{x:s[2],y:s[3]-12,width:6,height:16,fill:s[1]},g);
    
    
    tx(s[2]+20,s[3]+4,s[0],{"font-size":20,fill:"#111"},g);
  });
  varTypes.forEach((v,k)=>{
    const col = k<4?0:1, row = k<4?k:k-4;
    const x = col===0?61:390, y = 4522+row*33;
    const r = mk("rect",{x:x,y:y-12,width:6,height:16,fill:varCols[k]},g);
    
    
    tx(x+26,y+4,v,{"font-size":19,fill:"#111"},g);
  });
  tx(810,4530,"Tumor Type",{"font-size":20,fill:"#111"},g);
  const colXs=[831,964,1096,1229,1362,1496,1629,1762,1895], rowYs=[4565,4598,4630,4662];
  ttNames.forEach((n,k)=>{
    const c=Math.floor(k/4), r=k%4;
    const sw = mk("rect",{x:colXs[c],y:rowYs[r]-12,width:6,height:16,fill:ttCols[k]},g);
    
    
    tx(colXs[c]+26,rowYs[r]+4,n,{"font-size":19,fill:"#111"},g);
  });
})();
</script>
</body></html>
